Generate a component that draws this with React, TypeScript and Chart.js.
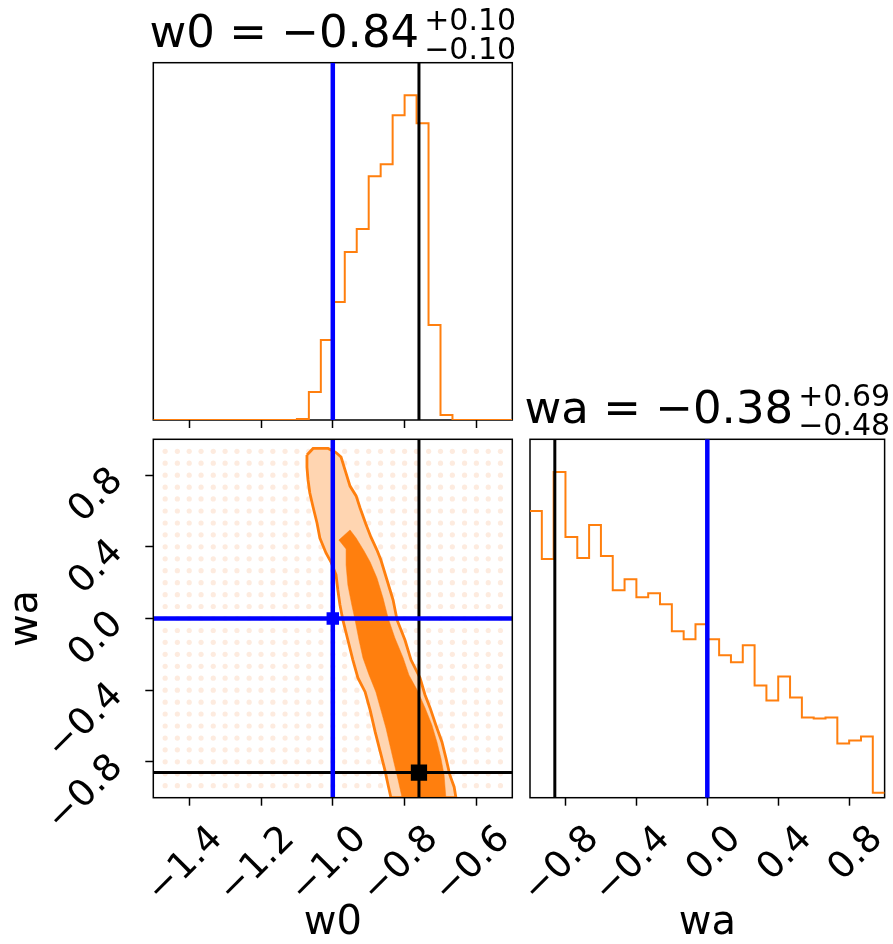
import React, { useEffect, useRef } from "react";
import { Chart, registerables } from "chart.js";

Chart.register(...registerables);

const W = 893;
const H = 944;
const FONT = '"DejaVu Sans", "Liberation Sans", sans-serif';
const ORANGE = "#ff7f0e";
const PEACH = "#ffd5b1";
const DOT = "#fdebdf";
const BLUE = "#0000ff";
const BLACK = "#000000";

// ---------- data ----------
const W0_RANGE = [-1.5, -0.5];
const WA_RANGE = [-1.0, 1.0];

// 30-bin step histograms (counts)
const W0_COUNTS = [0, 0, 0, 0, 0, 0, 0, 0, 0, 0, 0, 0, 1, 28, 80, 118, 168, 191, 244, 256, 305, 325, 297, 95, 5, 0, 0, 0, 0, 0];
const WA_COUNTS = [286, 238, 325, 260, 239, 272, 241, 207, 218, 200, 204, 193, 166, 158, 173, 158, 142, 135, 152, 112, 97, 121, 100, 80, 79, 80, 54, 57, 61, 5];

const W0_TICKS = [-1.4, -1.2, -1.0, -0.8, -0.6];
const W0_TICK_LABELS = ["\u22121.4", "\u22121.2", "\u22121.0", "\u22120.8", "\u22120.6"];
const WA_TICKS = [-0.8, -0.4, 0.0, 0.4, 0.8];
const WA_TICK_LABELS = ["\u22120.8", "\u22120.4", "0.0", "0.4", "0.8"];

const TRUTH_W0 = -0.76;
const TRUTH_WA = -0.86;
const REF_W0 = -1.0;
const REF_WA = 0.0;

const W0_LABEL = "w0";
const WA_LABEL = "wa";
const W0_TITLE = ["w0 = \u22120.84", "+0.10", "\u22120.10"];
const WA_TITLE = ["wa = \u22120.38", "+0.69", "\u22120.48"];

// sample grid (faint points)
const GRID_W0 = [-1.467, -1.433, -1.4, -1.367, -1.333, -1.3, -1.267, -1.233, -1.2, -1.167, -1.133, -1.1, -1.067, -1.033, -1.0, -0.967, -0.933, -0.9, -0.867, -0.833, -0.8, -0.767, -0.733, -0.7, -0.667, -0.633, -0.6, -0.567, -0.533];
const GRID_WA = [-0.933, -0.867, -0.8, -0.733, -0.667, -0.6, -0.533, -0.467, -0.4, -0.333, -0.267, -0.2, -0.133, -0.067, 0.0, 0.067, 0.133, 0.2, 0.267, 0.333, 0.4, 0.467, 0.533, 0.6, 0.667, 0.733, 0.8, 0.867, 0.933];

// outer (2-sigma) contour
const OUTER_W0 = [-1.072, -1.055, -1.013, -0.991, -0.977, -0.966, -0.952, -0.935, -0.924, -0.908, -0.894, -0.877, -0.866, -0.849, -0.832, -0.821, -0.799, -0.782, -0.757, -0.743, -0.729, -0.713, -0.696, -0.685, -0.674, -0.662, -0.657, -0.838, -0.846, -0.855, -0.869, -0.882, -0.896, -0.910, -0.930, -0.944, -0.958, -0.972, -0.980, -0.986, -0.991, -1.005, -1.019, -1.036, -1.044, -1.055, -1.064, -1.069, -1.072, -1.072];
const OUTER_WA = [0.912, 0.949, 0.949, 0.926, 0.901, 0.829, 0.739, 0.684, 0.617, 0.527, 0.455, 0.382, 0.326, 0.215, 0.103, -0.008, -0.120, -0.232, -0.332, -0.427, -0.499, -0.594, -0.689, -0.778, -0.873, -0.940, -1.0, -1.0, -0.929, -0.845, -0.734, -0.633, -0.511, -0.410, -0.332, -0.232, -0.120, -0.008, 0.075, 0.159, 0.243, 0.315, 0.366, 0.449, 0.533, 0.622, 0.700, 0.773, 0.845, 0.912];

// inner (1-sigma) contour
const INNER_W0 = [-0.952, -0.935, -0.913, -0.896, -0.877, -0.860, -0.846, -0.827, -0.804, -0.788, -0.765, -0.743, -0.724, -0.710, -0.699, -0.690, -0.685, -0.807, -0.818, -0.830, -0.841, -0.852, -0.866, -0.880, -0.899, -0.916, -0.927, -0.938, -0.947, -0.958, -0.963, -0.963, -0.983, -0.952];
const INNER_WA = [0.494, 0.449, 0.377, 0.315, 0.226, 0.114, 0.003, -0.109, -0.220, -0.315, -0.399, -0.499, -0.594, -0.689, -0.778, -0.873, -1.0, -1.0, -0.901, -0.801, -0.706, -0.611, -0.511, -0.410, -0.315, -0.220, -0.120, -0.008, 0.075, 0.187, 0.299, 0.388, 0.438, 0.494];

// ---------- helpers ----------
function histPoints(counts: number[], range: number[]) {
  const [lo, hi] = range;
  const w = (hi - lo) / counts.length;
  const pts = counts.map((c, i) => ({ x: lo + i * w, y: c }));
  pts.push({ x: hi, y: counts[counts.length - 1] });
  return pts;
}

function zip(xs: number[], ys: number[]) {
  return xs.map((x, i) => ({ x, y: ys[i] }));
}

const framePlugin = (hook: string) => ({
  id: "frame_" + hook,
  [hook]: (chart: any) => {
    const { ctx, chartArea } = chart;
    ctx.save();
    ctx.strokeStyle = BLACK;
    ctx.lineWidth = 1.5;
    ctx.strokeRect(chartArea.left, chartArea.top, chartArea.right - chartArea.left, chartArea.bottom - chartArea.top);
    ctx.restore();
  },
});

const titlePlugin = (parts: string[]) => ({
  id: "cornerTitle",
  afterDraw: (chart: any) => {
    const { ctx, chartArea } = chart;
    const mainFont = `45px ${FONT}`;
    const smallFont = `30px ${FONT}`;
    ctx.save();
    ctx.fillStyle = BLACK;
    ctx.textAlign = "left";
    ctx.textBaseline = "alphabetic";
    ctx.font = mainFont;
    const mw = ctx.measureText(parts[0]).width;
    ctx.font = smallFont;
    const sw = Math.max(ctx.measureText(parts[1]).width, ctx.measureText(parts[2]).width);
    const gap = 5;
    const cx = (chartArea.left + chartArea.right) / 2;
    const x0 = cx - (mw + gap + sw) / 2;
    ctx.font = mainFont;
    ctx.fillText(parts[0], x0, chartArea.top - 16);
    ctx.font = smallFont;
    ctx.fillText(parts[1], x0 + mw + gap, chartArea.top - 33);
    ctx.fillText(parts[2], x0 + mw + gap, chartArea.top - 4);
    ctx.restore();
  },
});

const gridOpts = {
  display: true,
  drawOnChartArea: false,
  drawTicks: true,
  tickLength: 8,
  tickWidth: 1.5,
  tickColor: BLACK,
};

const TICK_FONT = { family: FONT, size: 37 };
const LABEL_FONT = { family: FONT, size: 40, lineHeight: 1 };

function xScale(range: number[], ticks: number[], labels: string[], showLabels: boolean, title: string | null, fitHeight: number) {
  return {
    type: "linear",
    position: "bottom",
    min: range[0],
    max: range[1],
    afterBuildTicks: (s: any) => {
      s.ticks = ticks.map((v) => ({ value: v }));
    },
    afterFit: (s: any) => {
      s.height = fitHeight;
    },
    grid: gridOpts,
    border: { display: false },
    ticks: {
      display: showLabels,
      autoSkip: false,
      minRotation: 45,
      maxRotation: 45,
      labelOffset: 28,
      padding: 12,
      color: BLACK,
      font: TICK_FONT,
      callback: (_v: any, i: number) => labels[i],
    },
    title: title
      ? { display: true, text: title, color: BLACK, font: LABEL_FONT, padding: { top: 0, bottom: 0 } }
      : { display: false },
  };
}

const baseOptions = (padding: any, scales: any) => ({
  animation: false,
  responsive: false,
  maintainAspectRatio: false,
  events: [],
  layout: { padding },
  plugins: { legend: { display: false }, tooltip: { enabled: false } },
  scales,
});

function vLine(x: number, y0: number, y1: number, color: string, width: number, order: number) {
  return {
    type: "line",
    data: [{ x, y: y0 }, { x, y: y1 }],
    borderColor: color,
    borderWidth: width,
    pointRadius: 0,
    fill: false,
    order,
  };
}
function hLine(y: number, x0: number, x1: number, color: string, width: number, order: number) {
  return {
    type: "line",
    data: [{ x: x0, y }, { x: x1, y }],
    borderColor: color,
    borderWidth: width,
    pointRadius: 0,
    fill: false,
    order,
  };
}

function histChart(canvas: HTMLCanvasElement, counts: number[], range: number[], ticks: number[], labels: string[], showLabels: boolean, xTitle: string | null, truth: number, ref: number, area: { l: number; t: number; r: number; b: number }, title: string[]) {
  const yMax = Math.max(...counts) * 1.1;
  return new Chart(canvas, {
    type: "scatter",
    data: {
      datasets: [
        vLine(ref, 0, yMax, BLUE, 4.5, 1),
        vLine(truth, 0, yMax, BLACK, 3, 2),
        {
          type: "line",
          data: histPoints(counts, range),
          stepped: "before",
          borderColor: ORANGE,
          borderWidth: 2,
          pointRadius: 0,
          fill: false,
          order: 3,
        },
      ] as any,
    },
    options: baseOptions(
      { left: area.l, top: area.t, right: W - area.r, bottom: 0 },
      {
        x: xScale(range, ticks, labels, showLabels, xTitle, H - area.b),
        y: { type: "linear", display: false, min: 0, max: yMax },
      }
    ) as any,
    plugins: [framePlugin("beforeDatasetsDraw"), titlePlugin(title)] as any,
  });
}

function contourChart(canvas: HTMLCanvasElement) {
  const area = { l: 153.3, t: 439.3, r: 512.3, b: 797.7 };
  const dots: { x: number; y: number }[] = [];
  GRID_WA.forEach((wa) => GRID_W0.forEach((w0) => dots.push({ x: w0, y: wa })));
  return new Chart(canvas, {
    type: "scatter",
    data: {
      datasets: [
        { type: "scatter", data: [{ x: REF_W0, y: REF_WA }], pointStyle: "rect", pointRadius: 8.8, pointBackgroundColor: BLUE, pointBorderWidth: 0, order: 4 },
        vLine(REF_W0, WA_RANGE[0], WA_RANGE[1], BLUE, 4.5, 5),
        hLine(REF_WA, W0_RANGE[0], W0_RANGE[1], BLUE, 4.5, 5),
        { type: "scatter", data: [{ x: TRUTH_W0, y: TRUTH_WA }], pointStyle: "rect", pointRadius: 11.5, pointBackgroundColor: BLACK, pointBorderWidth: 0, order: 6 },
        vLine(TRUTH_W0, WA_RANGE[0], WA_RANGE[1], BLACK, 3, 7),
        hLine(TRUTH_WA, W0_RANGE[0], W0_RANGE[1], BLACK, 3, 7),
        {
          type: "line",
          data: zip(INNER_W0, INNER_WA),
          borderColor: ORANGE,
          borderWidth: 0.5,
          backgroundColor: ORANGE,
          fill: "shape",
          pointRadius: 0,
          tension: 0,
          order: 8,
        },
        {
          type: "line",
          data: zip(OUTER_W0, OUTER_WA),
          borderColor: ORANGE,
          borderWidth: 2.8,
          backgroundColor: PEACH,
          fill: "shape",
          pointRadius: 0,
          tension: 0,
          order: 9,
        },
        { type: "scatter", data: dots, pointRadius: 2.6, pointBackgroundColor: DOT, pointBorderWidth: 0, order: 10 },
      ] as any,
    },
    options: baseOptions(
      { left: 0, top: area.t, right: W - area.r, bottom: 0 },
      {
        x: xScale(W0_RANGE, W0_TICKS, W0_TICK_LABELS, true, W0_LABEL, H - area.b),
        y: {
          type: "linear",
          position: "left",
          min: WA_RANGE[0],
          max: WA_RANGE[1],
          afterBuildTicks: (s: any) => {
            s.ticks = WA_TICKS.map((v) => ({ value: v }));
          },
          afterFit: (s: any) => {
            s.width = area.l;
          },
          grid: gridOpts,
          border: { display: false },
          ticks: {
            autoSkip: false,
            minRotation: 45,
            maxRotation: 45,
            padding: 28,
            color: BLACK,
            font: TICK_FONT,
            callback: (_v: any, i: number) => WA_TICK_LABELS[i],
          },
          title: { display: true, text: WA_LABEL, color: BLACK, font: LABEL_FONT, padding: { top: 7, bottom: 0 } },
        },
      }
    ) as any,
    plugins: [framePlugin("afterDatasetsDraw")] as any,
  });
}

export default function App() {
  const refA = useRef<HTMLCanvasElement>(null);
  const refB = useRef<HTMLCanvasElement>(null);
  const refC = useRef<HTMLCanvasElement>(null);

  useEffect(() => {
    const charts: Chart[] = [];
    charts.push(
      histChart(refA.current!, W0_COUNTS, W0_RANGE, W0_TICKS, W0_TICK_LABELS, false, null, TRUTH_W0, REF_W0, { l: 153.3, t: 62.7, r: 512.3, b: 420 }, W0_TITLE)
    );
    charts.push(contourChart(refB.current!));
    charts.push(
      histChart(refC.current!, WA_COUNTS, WA_RANGE, WA_TICKS, WA_TICK_LABELS, true, WA_LABEL, TRUTH_WA, REF_WA, { l: 530, t: 439.3, r: 888.5, b: 797.7 }, WA_TITLE)
    );
    return () => charts.forEach((c) => c.destroy());
  }, []);

  const cs: React.CSSProperties = { position: "absolute", left: 0, top: 0 };
  return (
    <div style={{ position: "absolute", left: 0, top: 0, width: W, height: H, background: "#ffffff" }}>
      <canvas ref={refA} width={W} height={H} style={cs} />
      <canvas ref={refB} width={W} height={H} style={cs} />
      <canvas ref={refC} width={W} height={H} style={cs} />
    </div>
  );
}
